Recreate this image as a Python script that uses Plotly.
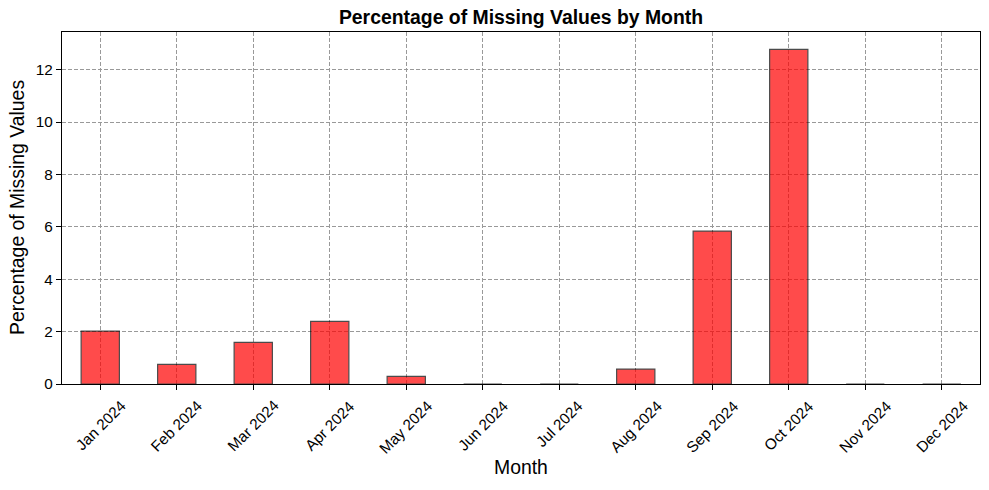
import plotly.graph_objects as go

months = ["Jan 2024", "Feb 2024", "Mar 2024", "Apr 2024", "May 2024", "Jun 2024",
          "Jul 2024", "Aug 2024", "Sep 2024", "Oct 2024", "Nov 2024", "Dec 2024"]
missing_pct = [2.02, 0.75, 1.59, 2.39, 0.29, 0.0, 0.0, 0.57, 5.84, 12.78, 0.0, 0.0]
y_ticks = [0, 2, 4, 6, 8, 10, 12]

FONT = "Arial, Liberation Sans, sans-serif"
x_idx = list(range(len(months)))

W, H = 989, 490
L, T = 62, 32
PW, PH = 918, 352
R, B = W - L - PW, H - T - PH

fig = go.Figure()
fig.add_trace(go.Bar(
    x=x_idx, y=missing_pct, width=0.5,
    marker=dict(color="red", line=dict(color="black", width=1.2)),
    opacity=0.7, showlegend=False,
))

grid = dict(showgrid=True, gridcolor="#999999", griddash="4px,2px", gridwidth=1)
fig.update_xaxes(range=[-0.5, 11.5], tickvals=x_idx, ticktext=[""] * len(months),
                 ticks="outside", ticklen=5, tickcolor="black", showline=True,
                 linecolor="black", linewidth=1.2, mirror=True, zeroline=False, **grid)
fig.update_yaxes(range=[0, 13.44], tickvals=y_ticks, ticks="outside", ticklen=5,
                 tickcolor="black", showline=True, linecolor="black", linewidth=1.2,
                 mirror=True, zeroline=False, tickfont=dict(size=15.3, color="black"),
                 **grid)

for i, m in zip(x_idx, months):
    fig.add_annotation(x=i, xref="x", y=-10 / PH, yref="paper", text=m, textangle=-45,
                       xanchor="center", yanchor="top", showarrow=False,
                       font=dict(size=15.3, color="black", family=FONT))

fig.add_annotation(x=0.5, xref="paper", y=(384 - 467) / PH, yref="paper", text="Month",
                   showarrow=False, xanchor="center", yanchor="middle",
                   font=dict(size=19.4, color="black", family=FONT))
fig.add_annotation(x=(17 - L) / PW, xref="paper", y=0.5, yref="paper",
                   text="Percentage of Missing Values", textangle=-90,
                   showarrow=False, xanchor="center", yanchor="middle",
                   font=dict(size=19.4, color="black", family=FONT))

fig.update_layout(
    width=W, height=H,
    margin=dict(l=L, r=R, t=T, b=B, pad=0, autoexpand=False),
    paper_bgcolor="white", plot_bgcolor="white",
    font=dict(family=FONT, color="black"),
    title=dict(text="<b>Percentage of Missing Values by Month</b>", x=0.5, xref="paper",
               xanchor="center", y=1 - 17 / H, yanchor="middle",
               font=dict(size=19.4, color="black")),
)

fig.write_html("out.html", config={"displayModeBar": False},
               post_script="document.body.style.margin='0';document.body.style.overflow='hidden';")
